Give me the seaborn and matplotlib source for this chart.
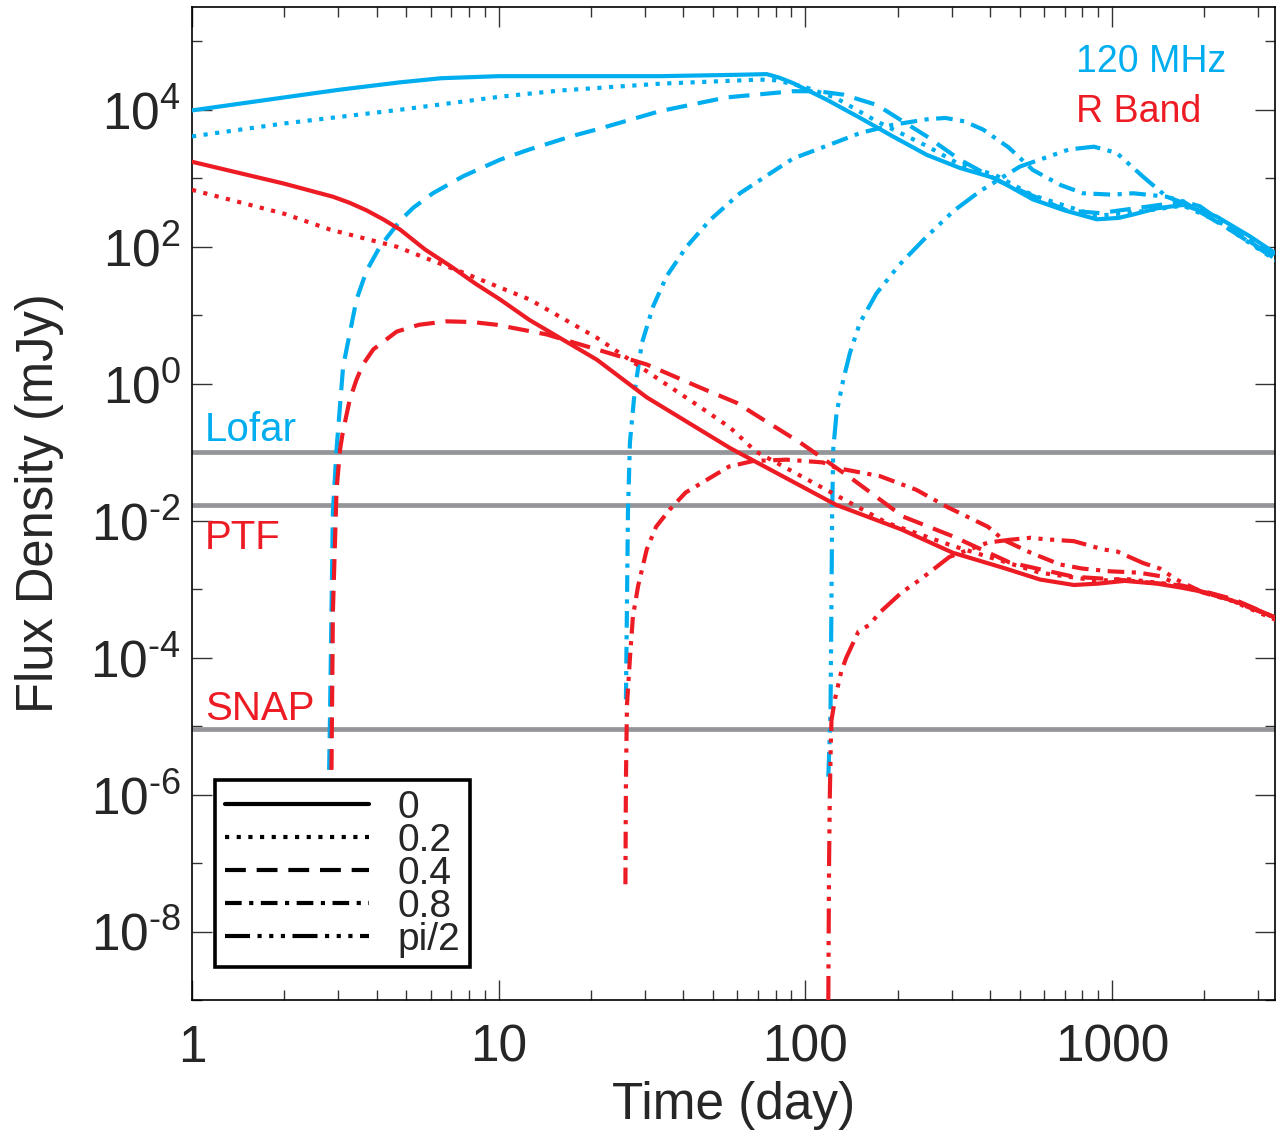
import numpy as np
import pandas as pd
import matplotlib
matplotlib.use("Agg")
import matplotlib.pyplot as plt
import seaborn as sns
from matplotlib.lines import Line2D
from matplotlib.ticker import FixedLocator, FuncFormatter, NullFormatter

# viewing angles (legend order)
angles = ["0", "0.2", "0.4", "0.8", "pi/2"]
bands = ["120 MHz", "R Band"]

# ---- 120 MHz light curves: time (day) and log10 flux density (mJy) ----
radio_t_0 = [1, 2, 3, 4.77, 6.5, 10, 15.8, 33.6, 60, 74.8, 82, 91, 117, 151, 193, 249, 319,
             415, 552, 700, 891, 1050, 1172, 1400, 1706, 2194, 2818, 3420]
radio_lf_0 = [3.99, 4.18, 4.29, 4.40, 4.46, 4.49, 4.49, 4.49, 4.51, 4.52, 4.47, 4.39, 4.15, 3.88,
              3.61, 3.34, 3.15, 3.00, 2.69, 2.53, 2.40, 2.42, 2.47, 2.56, 2.61, 2.44, 2.15, 1.90]

radio_t_02 = [1, 2, 4.77, 10.1, 15.8, 33.6, 71, 80, 98.5, 126, 171, 249, 319, 415, 552, 891,
              1172, 1706, 2194, 2818, 3420]
radio_lf_02 = [3.61, 3.80, 4.00, 4.19, 4.28, 4.38, 4.44, 4.43, 4.34, 4.17, 3.83, 3.47, 3.20,
               3.05, 2.75, 2.45, 2.50, 2.60, 2.38, 2.05, 1.80]

radio_t_04 = [2.80, 2.82, 2.85, 2.88, 2.96, 3.11, 3.44, 3.71, 4.1, 4.77, 5.27, 6.1, 7.67, 10.1,
              12.6, 17.5, 21.2, 33.6, 55.4, 91, 110, 133, 171, 249, 319, 431, 711, 912, 1330,
              1706, 2478, 3420]
radio_lf_04 = [-5.64, -4.80, -3.34, -1.88, -0.96, 0.25, 1.23, 1.65, 2.00, 2.38, 2.57, 2.78, 3.03,
               3.27, 3.42, 3.62, 3.72, 3.98, 4.18, 4.27, 4.27, 4.22, 4.07, 3.61, 3.27, 2.95, 2.53,
               2.49, 2.59, 2.66, 2.22, 1.82]

radio_t_08 = [26.0, 26.4, 26.8, 27.8, 29.3, 31.9, 35.3, 41.0, 48.9, 61.2, 78.6, 91.4, 103.5, 151,
              193, 249, 286, 330, 380, 460, 552, 680, 804, 1000, 1172, 1507, 1706, 2478, 3420]
radio_lf_08 = [-4.61, -1.88, -0.85, -0.09, 0.59, 1.13, 1.57, 2.00, 2.39, 2.78, 3.10, 3.29, 3.38,
               3.66, 3.78, 3.86, 3.88, 3.83, 3.71, 3.45, 3.12, 2.90, 2.78, 2.76, 2.78, 2.73, 2.64,
               2.25, 1.84]

radio_t_pi2 = [118.8, 120.0, 120.8, 121.5, 122.3, 123.3, 126.4, 133, 139.8, 150.7, 170.7, 203,
               249, 304, 371, 501, 724, 873, 1035, 1264, 1507, 1935, 2478, 3420]
radio_lf_pi2 = [-5.74, -5.20, -4.80, -3.50, -1.90, -0.96, -0.43, 0.06, 0.45, 0.89, 1.32, 1.74,
                2.15, 2.52, 2.81, 3.17, 3.42, 3.46, 3.37, 3.02, 2.73, 2.59, 2.25, 1.81]

# ---- R band light curves ----
opt_t_0 = [1, 2, 2.88, 3.27, 3.71, 4.2, 4.77, 5.75, 7.0, 8.4, 10.1, 12.6, 20.9, 30.4, 56.8, 126,
           206, 303, 450, 582, 751, 900, 1100, 1400, 1690, 2085, 2800, 3420]
opt_lf_0 = [3.24, 2.92, 2.73, 2.64, 2.53, 2.40, 2.25, 1.96, 1.71, 1.46, 1.23, 0.93, 0.35, -0.20,
            -0.94, -1.77, -2.13, -2.47, -2.70, -2.86, -2.94, -2.92, -2.88, -2.92, -2.98, -3.06,
            -3.25, -3.42]

opt_t_02 = [1, 2, 2.82, 4.65, 7.67, 12.6, 20.9, 34.4, 45, 56.8, 68.9, 111.6, 184, 303, 582, 900,
            1100, 1690, 2400, 3420]
opt_lf_02 = [2.83, 2.48, 2.25, 2.00, 1.62, 1.23, 0.67, 0.02, -0.33, -0.64, -0.99, -1.50, -2.03,
             -2.37, -2.76, -2.88, -2.85, -2.95, -3.15, -3.45]

opt_t_04 = [2.85, 2.88, 2.96, 3.04, 3.1, 3.27, 3.44, 3.61, 3.9, 4.65, 5.5, 6.76, 8.2, 9.84, 14.3,
            20.9, 30.4, 45, 59.7, 73.2, 96.2, 143, 208, 303, 463, 582, 751, 1038, 1700, 2500, 3420]
opt_lf_04 = [-5.64, -3.34, -1.55, -0.96, -0.72, -0.23, 0.06, 0.28, 0.50, 0.76, 0.86, 0.91, 0.90,
             0.86, 0.72, 0.50, 0.28, -0.05, -0.28, -0.53, -0.86, -1.40, -1.94, -2.23, -2.61,
             -2.71, -2.82, -2.86, -2.95, -3.15, -3.42]

opt_t_08 = [25.9, 26.0, 26.2, 26.8, 27.4, 28.5, 30.4, 32.6, 36.1, 40.7, 50, 56.4, 67.5, 86.8,
            114, 126, 175, 230, 290, 394, 442, 544, 676, 800, 985, 1224, 1432, 1690, 2400, 3420]
opt_lf_08 = [-7.31, -5.80, -4.70, -4.00, -3.40, -2.95, -2.42, -2.09, -1.84, -1.59, -1.35, -1.21,
             -1.13, -1.11, -1.15, -1.23, -1.35, -1.55, -1.80, -2.09, -2.28, -2.47, -2.64, -2.70,
             -2.74, -2.76, -2.81, -2.96, -3.15, -3.42]

opt_t_pi2 = [118.5, 119.0, 119.5, 120.2, 121.0, 121.7, 125, 131, 136, 149, 162, 175, 206, 237,
             295, 394, 464, 544, 597, 751, 935, 1038, 1264, 1432, 1622, 1979, 2600, 3420]
opt_lf_pi2 = [-10.0, -8.5, -7.0, -6.0, -5.3, -4.91, -4.60, -4.20, -4.00, -3.62, -3.52, -3.34,
              -3.05, -2.86, -2.53, -2.32, -2.28, -2.25, -2.27, -2.30, -2.42, -2.45, -2.62, -2.70,
              -2.86, -3.05, -3.20, -3.42]

# detection limits (mJy)
lofar_limit = 0.1
ptf_limit = 0.017
snap_limit = 9.2e-6

# ---- assemble long-form table ----
curves = {
    ("120 MHz", "0"): (radio_t_0, radio_lf_0),
    ("120 MHz", "0.2"): (radio_t_02, radio_lf_02),
    ("120 MHz", "0.4"): (radio_t_04, radio_lf_04),
    ("120 MHz", "0.8"): (radio_t_08, radio_lf_08),
    ("120 MHz", "pi/2"): (radio_t_pi2, radio_lf_pi2),
    ("R Band", "0"): (opt_t_0, opt_lf_0),
    ("R Band", "0.2"): (opt_t_02, opt_lf_02),
    ("R Band", "0.4"): (opt_t_04, opt_lf_04),
    ("R Band", "0.8"): (opt_t_08, opt_lf_08),
    ("R Band", "pi/2"): (opt_t_pi2, opt_lf_pi2),
}
frames = []
for (band, ang), (tt, lf) in curves.items():
    frames.append(pd.DataFrame({"t": tt, "flux": 10.0 ** np.asarray(lf),
                                "band": band, "angle": ang}))
df = pd.concat(frames, ignore_index=True)

# ---- style ----
sns.set_style("ticks")
plt.rcParams["font.family"] = ["Liberation Sans", "DejaVu Sans"]
plt.rcParams["mathtext.fontset"] = "custom"
plt.rcParams["mathtext.rm"] = "Liberation Sans"
plt.rcParams["mathtext.it"] = "Liberation Sans:italic"
plt.rcParams["axes.unicode_minus"] = False

CYAN = "#00AEEF"
RED = "#ED1C24"
GRAY = "#939598"
palette = {"120 MHz": CYAN, "R Band": RED}
dash_map = {
    "0": "",
    "0.2": (1, 1.8),
    "0.4": (5, 2.6),
    "0.8": (4, 1.8, 1, 1.8),
    "pi/2": (6, 1.8, 1, 1.8, 1, 1.8, 1, 1.8),
}
LW = 3.0

fig = plt.figure(figsize=(12.76, 11.33), dpi=100)
ax = fig.add_axes([192 / 1276, 1 - 1000 / 1133, 1083 / 1276, 993 / 1133])
ax.set_xscale("log")
ax.set_yscale("log")

for y in (lofar_limit, ptf_limit, snap_limit):
    ax.axhline(y, color=GRAY, lw=3.4, zorder=1)

sns.lineplot(data=df, x="t", y="flux", hue="band", style="angle",
             hue_order=bands, style_order=angles, palette=palette, dashes=dash_map,
             estimator=None, sort=True, lw=LW, legend=False, ax=ax, zorder=3)

ax.set_xlim(1, 3400)
ax.set_ylim(1e-9, 10 ** 5.5)

HYPHEN = "\u2010"


def decade_label(v, pos):
    k = int(round(np.log10(v)))
    exp = (HYPHEN + str(-k)) if k < 0 else str(k)
    return "$\\mathdefault{10^{" + exp + "}}$"


# ticks
ax.xaxis.set_major_locator(FixedLocator([1, 10, 100, 1000]))
ax.xaxis.set_major_formatter(FuncFormatter(lambda v, p: "%d" % v))
ax.xaxis.set_minor_locator(FixedLocator([m * 10 ** d for d in range(0, 4) for m in range(2, 10)]))
ax.xaxis.set_minor_formatter(NullFormatter())
ax.yaxis.set_major_locator(FixedLocator([10.0 ** k for k in range(-8, 5, 2)]))
ax.yaxis.set_major_formatter(FuncFormatter(decade_label))
ax.yaxis.set_minor_locator(FixedLocator([10.0 ** k for k in range(-9, 6, 2)]))
ax.yaxis.set_minor_formatter(NullFormatter())
ax.tick_params(which="both", direction="in", top=True, right=True, width=1.0, color="#333333")
ax.tick_params(which="major", length=14.5)
ax.tick_params(which="minor", length=7.2)
ax.tick_params(axis="x", which="major", labelsize=37, pad=17)
ax.tick_params(axis="y", which="major", labelsize=37, pad=8)
for s in ax.spines.values():
    s.set_linewidth(1.2)
    s.set_color("black")

ax.set_xlabel("Time (day)", fontsize=37, labelpad=6)
ax.set_ylabel("Flux Density (mJy)", fontsize=36.5, labelpad=19)

# band and survey labels
ax.text(0.816, 0.9345, "120 MHz", color=CYAN, fontsize=27, transform=ax.transAxes, va="baseline")
ax.text(0.816, 0.884, "R Band", color=RED, fontsize=27, transform=ax.transAxes, va="baseline")
ax.text(0.012, 0.563, "Lofar", color=CYAN, fontsize=29, transform=ax.transAxes, va="baseline")
ax.text(0.012, 0.454, "PTF", color=RED, fontsize=29, transform=ax.transAxes, va="baseline")
ax.text(0.012, 0.282, "SNAP", color=RED, fontsize=29, transform=ax.transAxes, va="baseline")

# legend for viewing angle
handles = []
for a in angles:
    d = dash_map[a]
    h = Line2D([], [], color="black", lw=LW)
    if d:
        h.set_dashes(d)
    handles.append(h)
leg = ax.legend(handles, angles, loc="lower left", bbox_to_anchor=(0.0212, 0.033),
                borderaxespad=0, fontsize=28, handlelength=3.7, handletextpad=0.75,
                labelspacing=-0.08, borderpad=0.25, frameon=True, fancybox=False)
leg.get_frame().set_edgecolor("black")
leg.get_frame().set_linewidth(2.6)
leg.get_frame().set_alpha(1)
leg.set_zorder(5)

fig.savefig("out.png", dpi=100)
